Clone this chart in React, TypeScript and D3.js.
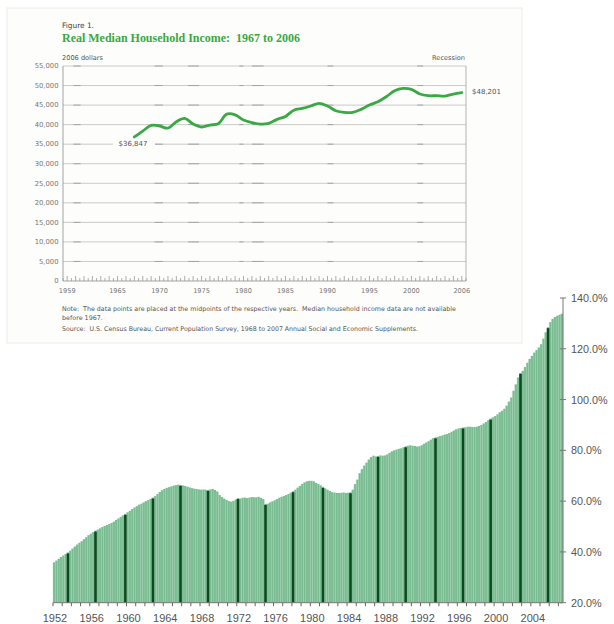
import React from 'react';
import * as d3 from 'd3';

// ---------- Top chart data (Census Figure 1) ----------
const incomeStartYear = 1967;
const medianIncome = [
  36847, 38360, 39800, 39650, 39100, 40750, 41600, 40150, 39400, 39900,
  40250, 42680, 42500, 41170, 40500, 40150, 40330, 41350, 42100, 43700,
  44160, 44760, 45440, 44760, 43560, 43150, 43150, 43910, 45000, 45860,
  47140, 48670, 49270, 49020, 47830, 47400, 47400, 47320, 47830, 48201,
];
const incomeTicks = [0, 5000, 10000, 15000, 20000, 25000, 30000, 35000, 40000, 45000, 50000, 55000];
const incomeYearLabels = [1959, 1965, 1970, 1975, 1980, 1985, 1990, 1995, 2000, 2006];
const recessions: [number, number][] = [
  [1960.25, 1961.1], [1969.9, 1970.9], [1973.9, 1975.2], [1980.0, 1980.5],
  [1981.5, 1982.9], [1990.5, 1991.2], [2001.2, 2001.9],
];

// ---------- Bottom chart data (quarterly, percent) ----------
const debtStartYear = 1952;
const debtRatio = [
  35.9, 36.6, 37.3, 38.0, 38.6, 39.2, 39.8, 40.5, 41.3, 42.1, 42.9, 43.6,
  44.2, 45.0, 45.8, 46.6, 47.2, 47.8, 48.4, 48.8, 49.3, 49.8, 50.2, 50.6,
  51.0, 51.4, 51.9, 52.6, 53.2, 53.8, 54.4, 55.0, 55.6, 56.2, 56.9, 57.5,
  58.0, 58.6, 59.0, 59.5, 60.0, 60.4, 60.9, 61.4, 62.0, 62.8, 63.6, 64.3,
  64.8, 65.2, 65.5, 65.8, 66.1, 66.3, 66.5, 66.4, 66.2, 66.0, 65.7, 65.4,
  65.1, 64.9, 64.8, 64.6, 64.5, 64.6, 64.5, 64.4, 64.6, 64.8, 64.4, 63.8,
  62.4, 61.6, 61.0, 60.5, 60.0, 59.8, 60.1, 60.6, 61.2, 61.0, 61.3, 61.4,
  61.2, 61.4, 61.6, 61.5, 61.5, 61.7, 61.3, 60.8, 58.9, 59.0, 59.5, 59.9,
  60.3, 60.8, 61.3, 61.7, 62.0, 62.4, 62.8, 63.3, 63.9, 64.5, 65.3, 66.0,
  66.8, 67.4, 67.8, 68.0, 68.0, 67.8, 67.2, 66.7, 66.2, 65.6, 65.0, 64.5,
  64.0, 63.5, 63.4, 63.2, 63.2, 63.3, 63.4, 63.2, 63.3, 63.5, 64.5, 66.7,
  68.5, 71.0, 72.6, 74.0, 75.2, 76.4, 77.4, 77.9, 77.6, 77.8, 78.0, 77.9,
  78.0, 78.4, 79.0, 79.6, 80.0, 80.3, 80.6, 80.8, 81.2, 81.6, 81.8, 82.0,
  81.8, 81.7, 81.5, 81.6, 82.0, 82.6, 83.1, 83.6, 84.2, 84.8, 85.1, 85.3,
  85.6, 85.9, 86.2, 86.4, 86.8, 87.3, 87.8, 88.3, 88.6, 88.8, 89.0, 89.1,
  89.3, 89.3, 89.2, 89.2, 89.3, 89.6, 90.0, 90.6, 91.2, 91.9, 92.5, 93.0,
  93.5, 94.2, 95.0, 95.6, 96.4, 97.6, 99.2, 100.8, 103.5, 106.0, 108.7, 110.5,
  111.3, 112.8, 114.5, 116.0, 117.2, 118.5, 119.5, 120.5, 121.8, 124.0, 126.5, 128.5,
  130.5, 131.8, 132.5, 133.0, 133.4, 133.8,
];
const debtYearLabels = [1952, 1956, 1960, 1964, 1968, 1972, 1976, 1980, 1984, 1988, 1992, 1996, 2000, 2004];
const debtPctTicks = [20, 40, 60, 80, 100, 120, 140];

export default function App() {
  const W = 614, H = 624;

  // bottom chart scales
  const xB = d3.scaleLinear().domain([1952, 2007.5]).range([53, 563]);
  const yB = d3.scaleLinear().domain([20, 140]).range([602.7, 298]);
  const qw = xB(1952.25) - xB(1952);
  const darkIdx = new Set(d3.range(18).map((k) => Math.floor(6.5 + k * 12.29)));
  const yearTicksB = d3.range(1952, 2008);

  // top chart scales
  const xT = d3.scaleLinear().domain([1959, 2007]).range([63, 466]);
  const yT = d3.scaleLinear().domain([0, 55000]).range([281, 66]);
  const line = d3
    .line<number>()
    .x((_, i) => xT(incomeStartYear + i + 0.5))
    .y((d) => yT(d))
    .curve(d3.curveCatmullRom.alpha(0.5));
  const halfTicks = d3.range(1959, 2007.01, 0.5);
  const small = '"DejaVu Sans", Verdana, sans-serif';

  return (
    <svg width={W} height={H} style={{ position: 'absolute', left: 0, top: 0 }} xmlns="http://www.w3.org/2000/svg">
      <rect x={0} y={0} width={W} height={H} fill="#ffffff" />

      {/* ---------- Bottom chart ---------- */}
      <g>
        {debtRatio.map((v, i) => {
          const x0 = xB(debtStartYear + i / 4);
          return (
            <rect key={'b' + i} x={x0} y={yB(v)} width={qw + 0.05} height={yB(20) - yB(v)} fill="#79bc91" />
          );
        })}
        {debtRatio.map((v, i) => {
          const x0 = xB(debtStartYear + i / 4);
          return (
            <line key={'s' + i} x1={x0} x2={x0} y1={yB(v) + 0.5} y2={yB(20)} stroke="#a8d6b6" strokeWidth={0.35} />
          );
        })}
        {debtRatio.map((v, i) =>
          darkIdx.has(i) ? (
            <rect key={'d' + i} x={xB(debtStartYear + i / 4) + qw / 2 - 1.3} y={yB(v) + 1} width={2.6} height={yB(20) - yB(v) - 1} fill="#0b4a1c" />
          ) : null
        )}
        <line x1={53} x2={563} y1={yB(20)} y2={yB(20)} stroke="#777" strokeWidth={1} />
        {yearTicksB.map((y) => (
          <line key={'t' + y} x1={xB(y)} x2={xB(y)} y1={yB(20)} y2={yB(20) + 3.5} stroke="#666" strokeWidth={1} />
        ))}
        {debtYearLabels.map((y) => (
          <text key={'l' + y} x={xB(y) + 2} y={622} textAnchor="middle" fontFamily="'Liberation Sans', Arial, sans-serif" fontSize={11} fill="#555">
            {y}
          </text>
        ))}
        <line x1={563} x2={563} y1={298} y2={yB(20)} stroke="#777" strokeWidth={1} />
        {debtPctTicks.map((p) => (
          <g key={'p' + p}>
            <line x1={560} x2={566} y1={yB(p)} y2={yB(p)} stroke="#777" strokeWidth={1} />
            <text x={571} y={yB(p) + 4} fontFamily="'Liberation Sans', Arial, sans-serif" fontSize={10.8} fill="#555">
              {p.toFixed(1)}%
            </text>
          </g>
        ))}
      </g>

      {/* ---------- Top chart panel ---------- */}
      <g>
        <rect x={7} y={8} width={515} height={335} fill="#fdfdfb" stroke="#ececea" strokeWidth={1} />
        <text x={62} y={28} fontFamily={small} fontSize={7.4} fill="#444">Figure 1.</text>
        <text x={62} y={41.5} fontFamily="'Liberation Serif', 'DejaVu Serif', serif" fontWeight="bold" fontSize={12.1} fill="#3aa844" style={{ whiteSpace: 'pre' }} textLength={238} lengthAdjust="spacingAndGlyphs">
          {'Real Median Household Income:  1967 to 2006'}
        </text>
        <text x={62} y={60} fontFamily={small} fontSize={6.6} fill="#555">2006 dollars</text>
        <text x={465} y={60} textAnchor="end" fontFamily={small} fontSize={6.6} fill="#555">Recession</text>

        {/* gridlines */}
        {incomeTicks.slice(1).map((t) => (
          <g key={'g' + t}>
            <line x1={63} x2={466} y1={yT(t)} y2={yT(t)} stroke="#c4c4c4" strokeWidth={0.9} />
            {recessions.map(([a, b], j) => (
              <line key={j} x1={xT(a)} x2={xT(b)} y1={yT(t)} y2={yT(t)} stroke="#a4a4a4" strokeWidth={1} />
            ))}
          </g>
        ))}
        {incomeTicks.map((t) => (
          <text key={'yl' + t} x={58.5} y={yT(t) + 2.3} textAnchor="end" fontFamily={small} fontSize={6.8} fill="#777">
            {d3.format(',')(t)}
          </text>
        ))}
        <line x1={63} x2={63} y1={66} y2={281} stroke="#999" strokeWidth={0.9} />
        <line x1={466} x2={466} y1={66} y2={281} stroke="#aaa" strokeWidth={0.9} />
        <line x1={63} x2={466} y1={281} y2={281} stroke="#999" strokeWidth={0.9} />
        {halfTicks.map((y, i) => (
          <line key={'ht' + i} x1={xT(y)} x2={xT(y)} y1={281} y2={281 - (i % 2 === 0 ? 3 : 5)} stroke="#999" strokeWidth={0.8} />
        ))}
        {incomeYearLabels.map((y) => (
          <text key={'xl' + y} x={xT(y + 0.5)} y={293} textAnchor="middle" fontFamily={small} fontSize={6.6} fill="#777">
            {y}
          </text>
        ))}

        {/* first value label */}
        <rect x={113} y={139} width={42} height={10} fill="#fdfdfb" />
        <text x={133} y={146.3} textAnchor="middle" fontFamily={small} fontSize={7} fill="#555">
          ${d3.format(',')(medianIncome[0])}
        </text>
        <text x={472} y={94} fontFamily={small} fontSize={7} fill="#555">
          ${d3.format(',')(medianIncome[medianIncome.length - 1])}
        </text>

        <path d={line(medianIncome) || ''} fill="none" stroke="#3aa844" strokeWidth={2.8} strokeLinejoin="round" strokeLinecap="round" />

        <text x={62} y={311} fontFamily={small} fontSize={6.4} fill="#555" style={{ whiteSpace: 'pre' }} textLength={394} lengthAdjust="spacingAndGlyphs">
          {'Note:  The data points are placed at the midpoints of the respective years.  Median household income data are not available'}
        </text>
        <text x={62} y={319.5} fontFamily={small} fontSize={6.4} fill="#555">before 1967.</text>
        <text x={62} y={331} fontFamily={small} fontSize={6.4} fill="#555" style={{ whiteSpace: 'pre' }} textLength={356} lengthAdjust="spacingAndGlyphs">
          {'Source:  U.S. Census Bureau, Current Population Survey, 1968 to 2007 Annual Social and Economic Supplements.'}
        </text>
      </g>
    </svg>
  );
}
